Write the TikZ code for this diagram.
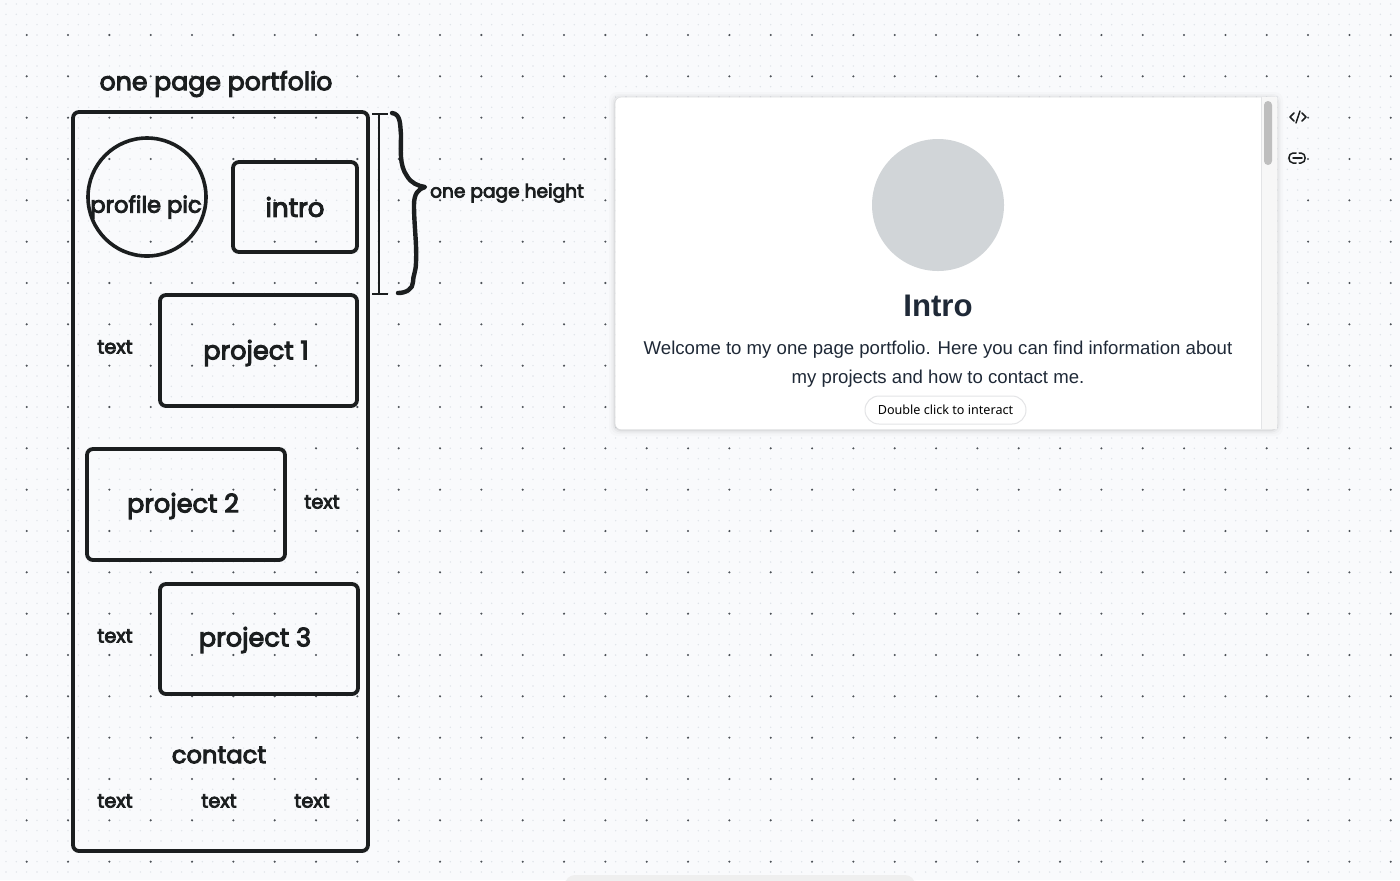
\documentclass[tikz,border=0pt]{standalone}
\usepackage{fontspec}
\setmainfont{Liberation Sans}
\newfontfamily\skfont[FakeBold=4]{Poppins}
\newfontfamily\uifont{Noto Sans}
\definecolor{bgc}{HTML}{F9FAFC}
\definecolor{inkc}{HTML}{1B1E1F}
\definecolor{minordot}{HTML}{DFE3E9}
\definecolor{majordot}{HTML}{4C5157}
\definecolor{avatarc}{HTML}{D1D5D8}
\definecolor{headc}{HTML}{1F2937}
\definecolor{trackc}{HTML}{F7F7F7}
\definecolor{thumbc}{HTML}{BEBEBE}
\definecolor{btnline}{HTML}{E3E4E6}
\definecolor{dockc}{HTML}{EFEFEF}
\tikzset{
  x=0.5pt,y=-0.5pt,
  sk/.style={font=\skfont\fontsize{#1}{#1}\selectfont,text=inkc,inner sep=0pt},
  sk/.default=13,
  sketchbox/.style={draw=inkc,line width=1.9pt,rounded corners=3pt,inner sep=0pt,outer sep=0pt,anchor=north west},
  minorrow/.style={draw=minordot,line width=0.8pt,line cap=round,dash pattern=on 0pt off 5.1667pt},
  majorrow/.style={draw=majordot,line width=1.15pt,line cap=round,dash pattern=on 0pt off 20.667pt},
  iconline/.style={draw=inkc,line width=0.75pt,line cap=round,line join=round},
}
\begin{document}
\begin{tikzpicture}
\useasboundingbox (0,0) rectangle (1400,880);
\clip (0,0) rectangle (1400,880);
\fill[bgc] (0,0) rectangle (1400,880);
% dot grid
\foreach \r in {0,...,85} \draw[minorrow] (6,{4+10.3333*\r}) -- (1400,{4+10.3333*\r});
\foreach \r in {0,...,21} \draw[majorrow] (26.7,{35+41.333*\r}) -- (1400,{35+41.333*\r});
% sketch
\node[sketchbox,minimum width=147.5pt,minimum height=369.5pt] (page) at (73,112) {};
\node[sk=12.6] (title) at (216,84) {one page portfolio};
\node[circle,draw=inkc,line width=1.8pt,minimum size=59pt,inner sep=0pt] (pic) at (147,197) {};
\node[sk=11.3] (piclabel) at (146,207) {profile pic};
\node[sketchbox,minimum width=62pt,minimum height=45pt] (introbox) at (233,162) {};
\node[sk=13] (introlabel) at (295,207) {intro};
\node[sketchbox,minimum width=98.5pt,minimum height=55.5pt] (p1) at (160,295) {};
\node[sk=12.8] (p1label) at (256,353) {project 1};
\node[sketchbox,minimum width=99pt,minimum height=55.5pt] (p2) at (87,449) {};
\node[sk=12.8] (p2label) at (183,506) {project 2};
\node[sketchbox,minimum width=99pt,minimum height=55pt] (p3) at (160,584) {};
\node[sk=12.8] (p3label) at (255,640) {project 3};
\node[sk=9.7] (t1) at (115,347) {text};
\node[sk=9.7] (t2) at (322,502) {text};
\node[sk=9.7] (t3) at (115,636) {text};
\node[sk=12.1] (contact) at (219,755) {contact};
\node[sk=9.7] (t4) at (115,801) {text};
\node[sk=9.7] (t5) at (219,801) {text};
\node[sk=9.7] (t6) at (312,801) {text};
\node[sk=9.3] (height) at (507,193) {one page height};
% measure bar
\coordinate (bartop) at (379,114);
\coordinate (barbot) at (379,294);
\draw[draw=inkc,line width=0.6pt] (372,114) -- (388,114) (bartop) -- (barbot) (372,294) -- (388,294);
% brace
\draw[draw=inkc,line width=2.2pt,line cap=round,line join=round]
  (392,113) .. controls (401,114) and (400,125) .. (401,135)
  .. controls (401,150) and (399,165) .. (407,176)
  .. controls (411,183) and (418,186) .. (425,187)
  .. controls (418,189) and (414,194) .. (414,205)
  .. controls (414,225) and (417,245) .. (416,262)
  .. controls (416,272) and (413,275) .. (413,282)
  .. controls (413,289) and (406,293) .. (398,293);
% card
\foreach \g/\o in {6/0.015,4/0.02,2.5/0.03,1.2/0.05}
  \fill[black,opacity=\o,rounded corners=4pt] (615-\g,97-\g+1) rectangle (1277+\g,429+\g+1);
\node[fill=white,rounded corners=3pt,minimum width=331pt,minimum height=166pt,inner sep=0pt,anchor=north west] (card) at (615,97) {};
\fill[trackc] (1261,97) rectangle (1277,429);
\draw[draw=btnline,line width=0.4pt] (1261,97) -- (1261,429);
\fill[thumbc,rounded corners=2pt] (1264,101) rectangle (1272,165);
\node[circle,fill=avatarc,minimum size=66pt,inner sep=0pt] (avatar) at (938,205) {};
\node[font=\fontsize{15.6}{15.6}\selectfont\bfseries,text=headc,inner sep=0pt] (head) at (938,306) {Intro};
\node[font=\fontsize{9.3}{14.5}\selectfont,text=headc,align=center,inner sep=0pt] (welcome) at (938,364) {Welcome to my one page portfolio. Here you can find information about\\my projects and how to contact me.};
\node[draw=btnline,fill=white,rounded corners=7pt,line width=0.5pt,minimum width=80.5pt,minimum height=14pt,inner sep=0pt,font=\uifont\fontsize{6.3}{6.3}\selectfont,text=black] (button) at (945.5,410) {Double click to interact};
% icons
\draw[iconline] (1294,113) -- (1290,117) -- (1294,121);
\draw[iconline] (1302,113) -- (1306,117) -- (1302,121);
\draw[iconline] (1300,111) -- (1296,123);
\draw[iconline] (1296,153) -- (1293,153) .. controls (1287.5,153) and (1287.5,163) .. (1293,163) -- (1296,163);
\draw[iconline] (1299,153) -- (1301,153) .. controls (1306.5,153) and (1306.5,163) .. (1301,163) -- (1299,163);
\draw[iconline] (1293,158) -- (1302,158);
% dock
\fill[dockc,rounded corners=5pt] (565,875) rectangle (915,890);
\end{tikzpicture}
\end{document}
